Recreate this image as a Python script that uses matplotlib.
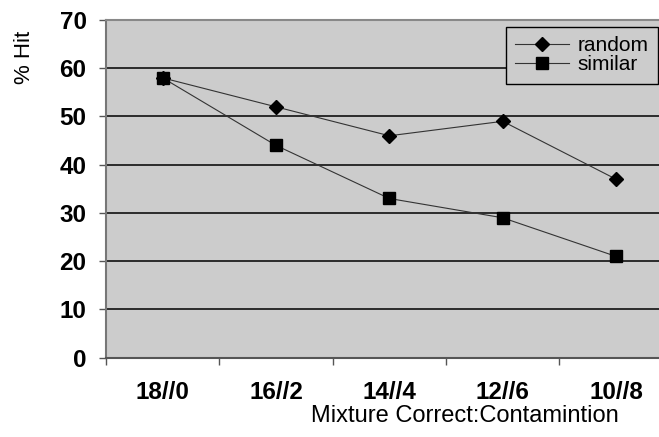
import matplotlib
matplotlib.use("Agg")
import matplotlib.pyplot as plt
from matplotlib.ticker import FixedLocator, NullFormatter

categories = ["18//0", "16//2", "14//4", "12//6", "10//8"]
random_vals = [58, 52, 46, 49, 37]
similar_vals = [58, 44, 33, 29, 21]
y_ticks = [0, 10, 20, 30, 40, 50, 60, 70]

plt.rcParams['font.family'] = ['Liberation Sans', 'DejaVu Sans']

fig = plt.figure(figsize=(6.59, 4.37), dpi=100)
ax = fig.add_axes([106 / 659, 1 - 357.7 / 437, 1 - 106 / 659, (357.7 - 20) / 437])
ax.set_facecolor('#CCCCCC')

x = list(range(len(categories)))
ax.plot(x, random_vals, color='#333333', lw=0.8, marker='D', markersize=7.2,
        markerfacecolor='black', markeredgecolor='black', label='random', zorder=3)
ax.plot(x, similar_vals, color='#333333', lw=0.8, marker='s', markersize=8.5,
        markerfacecolor='black', markeredgecolor='black', label='similar', zorder=4)

ax.set_ylim(0, 70)
ax.set_xlim(-0.5, (659 - 162) / 113.5)
ax.set_yticks(y_ticks)
ax.set_yticklabels([str(v) for v in y_ticks], fontsize=17.5, fontweight='bold')
ax.yaxis.grid(True, color='black', lw=1.1)
ax.set_axisbelow(True)

ax.xaxis.set_major_locator(FixedLocator([i - 0.5 for i in range(len(categories))]))
ax.xaxis.set_major_formatter(NullFormatter())
ax.xaxis.set_minor_locator(FixedLocator(x))
ax.set_xticklabels(categories, minor=True, fontsize=17.5, fontweight='bold')
ax.tick_params(axis='x', which='major', length=5, width=1, color='#555555', direction='out')
ax.tick_params(axis='x', which='minor', length=0, pad=17)
ax.tick_params(axis='y', which='major', length=5, width=1, color='#555555', direction='out', pad=9)

ax.spines['right'].set_visible(False)
ax.spines['top'].set_color('#888888')
ax.spines['top'].set_linewidth(1.5)
ax.spines['left'].set_color('#777777')
ax.spines['left'].set_linewidth(1.5)
ax.spines['bottom'].set_color('#555555')
ax.spines['bottom'].set_linewidth(1.5)

leg = ax.legend(loc='upper right', bbox_to_anchor=(658 / 659, 1 - 27 / 437),
                bbox_transform=fig.transFigure, borderaxespad=0, fontsize=15,
                frameon=True, fancybox=False, facecolor='#CCCCCC', edgecolor='black',
                handlelength=2.6, handletextpad=0.4, labelspacing=0.0, borderpad=0.45)
leg.get_frame().set_linewidth(1.0)
leg.get_frame().set_alpha(None)

fig.text(465 / 659, 1 - 422 / 437, "Mixture Correct:Contamintion", fontsize=17,
         ha='center', va='baseline')
fig.text(24 / 659, 1 - 57 / 437, "% Hit", fontsize=16, rotation=90,
         ha='center', va='center')

fig.savefig("out.png", dpi=100)
